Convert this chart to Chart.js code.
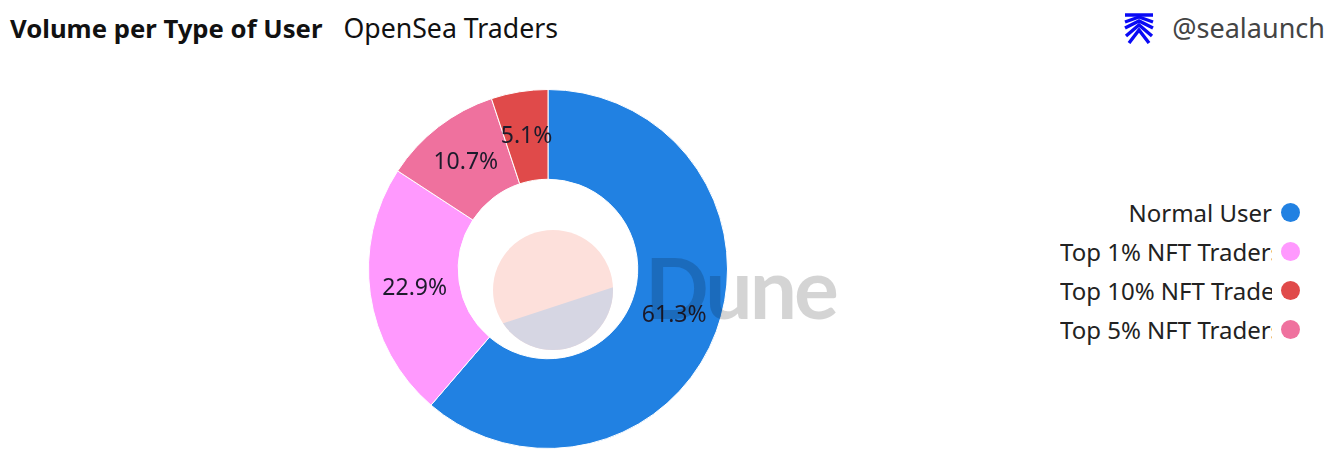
<!DOCTYPE html>
<html>
<head>
<meta charset="utf-8">
<script src="https://cdn.jsdelivr.net/npm/chart.js@4.4.1/dist/chart.umd.min.js"></script>
<style>
html,body{margin:0;padding:0;background:#fff;width:1334px;height:456px;overflow:hidden;font-family:"Noto Sans",sans-serif;}
#title{position:absolute;left:10px;top:11px;line-height:34px;white-space:nowrap;color:#111;}
#title b{font-weight:700;font-size:25.7px;}
#title span{margin-left:21px;font-weight:400;font-size:26.7px;}
#brand{position:absolute;right:9px;top:11px;font-size:27px;line-height:34px;color:#444;white-space:nowrap;}
#brandIcon{position:absolute;left:1124px;top:12px;}
#chartBox{position:absolute;left:368px;top:89px;width:360px;height:360px;}
#legend{position:absolute;right:34px;top:193px;}
.lg{display:flex;justify-content:flex-end;align-items:center;height:39px;}
.lg .t{max-width:212px;overflow:hidden;white-space:nowrap;font-size:24px;color:#222;}
.lg .d{width:19px;height:19px;border-radius:50%;margin-left:9px;flex:none;}
#wm{position:absolute;left:0;top:0;width:1334px;height:456px;pointer-events:none;}
#wmText{position:absolute;left:645px;top:237px;font-family:Lato,sans-serif;font-weight:700;font-size:84px;letter-spacing:-3px;line-height:100px;color:rgba(0,0,0,0.17);}
</style>
</head>
<body>
<div id="title"><b>Volume per Type of User</b><span>OpenSea Traders</span></div>
<svg id="brandIcon" width="32" height="32" viewBox="0 0 32 32">
  <g fill="none" stroke="#0a0af5" stroke-width="3.4" stroke-linejoin="miter">
    <line x1="1" y1="3" x2="29" y2="3" stroke-width="3.5"/>
    <polyline points="1,10 15,5 29,10"/>
    <polyline points="1,16 15,9 29,16"/>
    <polyline points="2,24 15,13 28,24"/>
    <polyline points="5,31 15,18 25,31"/>
  </g>
</svg>
<div id="brand">@sealaunch</div>
<div id="chartBox"><canvas id="c"></canvas></div>
<div id="legend"></div>
<div id="wm">
  <svg style="position:absolute;left:492px;top:229px" width="122" height="122" viewBox="0 0 122 122">
    <defs><clipPath id="cc"><circle cx="61" cy="61" r="60"/></clipPath></defs>
    <g clip-path="url(#cc)">
      <rect x="0" y="0" width="122" height="122" fill="#fde0db"/>
      <polygon points="0,98 122,58 122,122 0,122" fill="#d6d6e3"/>
    </g>
  </svg>
  <div id="wmText">Dune</div>
</div>
<script>
const categories = ["Normal User", "Top 1% NFT Traders", "Top 5% NFT Traders", "Top 10% NFT Traders"];
const shares = [61.3, 22.9, 10.7, 5.1];
const sliceColors = ["#2181e2", "#ff99fe", "#ef719e", "#e04a4a"];
const legendOrder = ["Normal User", "Top 1% NFT Traders", "Top 10% NFT Traders", "Top 5% NFT Traders"];

const legendEl = document.getElementById('legend');
legendOrder.forEach(name => {
  const i = categories.indexOf(name);
  const row = document.createElement('div');
  row.className = 'lg';
  const t = document.createElement('div'); t.className = 't'; t.textContent = name;
  const d = document.createElement('div'); d.className = 'd'; d.style.background = sliceColors[i];
  row.appendChild(t); row.appendChild(d);
  legendEl.appendChild(row);
});

const sliceLabels = {
  id: 'sliceLabels',
  afterDatasetsDraw(chart) {
    const ctx = chart.ctx;
    const meta = chart.getDatasetMeta(0);
    const ds = chart.data.datasets[0].data;
    const total = ds.reduce((a, b) => a + b, 0);
    ctx.save();
    ctx.font = '23px "Noto Sans"';
    ctx.fillStyle = '#1c1b2b';
    ctx.textAlign = 'center';
    ctx.textBaseline = 'middle';
    meta.data.forEach((arc, i) => {
      const p = arc.tooltipPosition();
      ctx.fillText((ds[i] / total * 100).toFixed(1) + '%', p.x, p.y);
    });
    ctx.restore();
  }
};

new Chart(document.getElementById('c'), {
  type: 'doughnut',
  data: {
    labels: categories,
    datasets: [{
      data: shares,
      backgroundColor: sliceColors,
      borderColor: '#ffffff',
      borderWidth: 1
    }]
  },
  options: {
    responsive: true,
    maintainAspectRatio: false,
    animation: false,
    cutout: '50%',
    layout: { padding: 0 },
    plugins: { legend: { display: false }, tooltip: { enabled: false } }
  },
  plugins: [sliceLabels]
});
</script>
</body>
</html>
